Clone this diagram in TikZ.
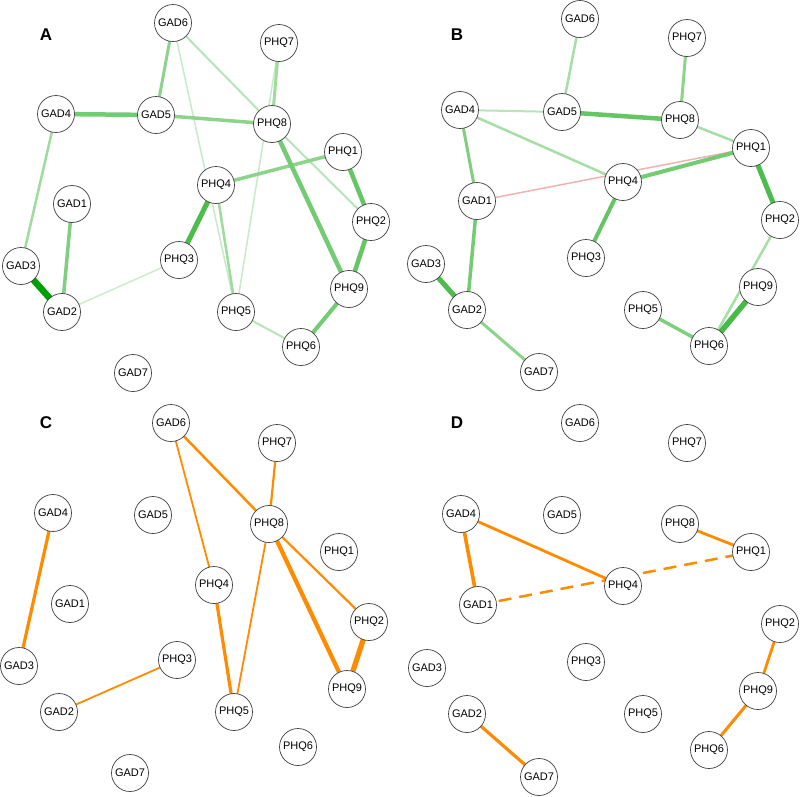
\documentclass[tikz,border=0pt]{standalone}
\usepackage{fontspec}
\setmainfont{Liberation Sans}
\usetikzlibrary{backgrounds}
\definecolor{gbase}{RGB}{0,160,0}
\definecolor{og}{RGB}{255,140,0}
\definecolor{negpink}{RGB}{240,178,178}
\tikzset{
  nd/.style={circle, draw=black!75, line width=0.7pt, fill=white, minimum size=37pt, inner sep=0pt, font=\fontsize{11}{13}\selectfont},
  ge/.style 2 args={line width=#1pt, draw=gbase!#2!white},
  oe/.style={line width=#1pt, draw=og},
  plabel/.style={font=\fontsize{17}{20}\selectfont\bfseries, inner sep=0pt},
}
\newcommand\pnode[4]{\node[nd] (#1#2) at (#3,#4) {#2};}
\newcommand\lnk[4][]{\draw[#1] (#2#3.center) -- (#2#4.center);}
\begin{document}
\begin{tikzpicture}[x=1pt,y=-1pt]
\useasboundingbox (0,0) rectangle (800,796);
% ---------------- Panel A ----------------
\node[plabel] (labA) at (46,35) {A};
\pnode{a}{GAD6}{173}{23}
\pnode{a}{PHQ7}{279}{43}
\pnode{a}{GAD4}{56}{114}
\pnode{a}{GAD5}{156}{115}
\pnode{a}{PHQ8}{272}{124}
\pnode{a}{PHQ1}{343}{152}
\pnode{a}{PHQ4}{216}{185}
\pnode{a}{GAD1}{72}{204}
\pnode{a}{PHQ2}{371}{222}
\pnode{a}{GAD3}{21}{266}
\pnode{a}{PHQ3}{179}{260}
\pnode{a}{PHQ9}{349}{289}
\pnode{a}{GAD2}{62}{312}
\pnode{a}{PHQ5}{236}{312}
\pnode{a}{PHQ6}{301}{347}
\pnode{a}{GAD7}{133}{373}
% ---------------- Panel B ----------------
\node[plabel] (labB) at (457,35) {B};
\pnode{b}{GAD6}{580}{19}
\pnode{b}{PHQ7}{687}{38}
\pnode{b}{GAD4}{460}{110}
\pnode{b}{GAD5}{562}{112}
\pnode{b}{PHQ8}{680}{120}
\pnode{b}{PHQ1}{751}{148}
\pnode{b}{PHQ4}{623}{182}
\pnode{b}{GAD1}{477}{201}
\pnode{b}{PHQ2}{780}{220}
\pnode{b}{PHQ3}{586}{258}
\pnode{b}{GAD3}{426}{264}
\pnode{b}{PHQ9}{758}{287}
\pnode{b}{GAD2}{467}{310}
\pnode{b}{PHQ5}{643}{310}
\pnode{b}{PHQ6}{709}{346}
\pnode{b}{GAD7}{539}{372}
% ---------------- Panel C ----------------
\node[plabel] (labC) at (46,423) {C};
\pnode{c}{GAD6}{171}{423}
\pnode{c}{PHQ7}{277}{443}
\pnode{c}{GAD4}{53}{513}
\pnode{c}{GAD5}{153}{515}
\pnode{c}{PHQ8}{269}{524}
\pnode{c}{PHQ1}{339}{552}
\pnode{c}{PHQ4}{214}{585}
\pnode{c}{GAD1}{70}{604}
\pnode{c}{PHQ2}{369}{622}
\pnode{c}{GAD3}{19}{666}
\pnode{c}{PHQ3}{177}{660}
\pnode{c}{PHQ9}{347}{689}
\pnode{c}{GAD2}{59}{712}
\pnode{c}{PHQ5}{234}{712}
\pnode{c}{PHQ6}{298}{747}
\pnode{c}{GAD7}{130}{773}
% ---------------- Panel D ----------------
\node[plabel] (labD) at (457,423) {D};
\pnode{d}{GAD6}{580}{423}
\pnode{d}{PHQ7}{687}{443}
\pnode{d}{GAD4}{461}{514}
\pnode{d}{GAD5}{562}{515}
\pnode{d}{PHQ8}{680}{524}
\pnode{d}{PHQ1}{751}{552}
\pnode{d}{PHQ4}{623}{586}
\pnode{d}{GAD1}{478}{605}
\pnode{d}{PHQ2}{780}{624}
\pnode{d}{GAD3}{427}{668}
\pnode{d}{PHQ3}{586}{662}
\pnode{d}{PHQ9}{758}{691}
\pnode{d}{GAD2}{467}{714}
\pnode{d}{PHQ5}{643}{714}
\pnode{d}{PHQ6}{709}{750}
\pnode{d}{GAD7}{539}{777}
\begin{pgfonlayer}{background}
\fill[white] (0,0) rectangle (800,796);
% A edges
\lnk[ge={1.5}{20}]{a}{GAD2}{PHQ3}
\lnk[ge={1.5}{22}]{a}{GAD6}{PHQ5}
\lnk[ge={1.5}{22}]{a}{PHQ7}{PHQ5}
\lnk[ge={2}{28}]{a}{GAD6}{PHQ8}
\lnk[ge={2}{28}]{a}{PHQ8}{PHQ2}
\lnk[ge={2}{28}]{a}{PHQ5}{PHQ6}
\lnk[ge={2.5}{38}]{a}{PHQ4}{PHQ5}
\lnk[ge={2.5}{38}]{a}{GAD4}{GAD3}
\lnk[ge={3}{38}]{a}{PHQ7}{PHQ8}
\lnk[ge={3}{45}]{a}{GAD6}{GAD5}
\lnk[ge={3.5}{45}]{a}{GAD5}{PHQ8}
\lnk[ge={3.5}{45}]{a}{PHQ4}{PHQ1}
\lnk[ge={3.5}{50}]{a}{GAD1}{GAD2}
\lnk[ge={4.5}{55}]{a}{GAD4}{GAD5}
\lnk[ge={4.5}{55}]{a}{PHQ8}{PHQ9}
\lnk[ge={4}{55}]{a}{PHQ9}{PHQ6}
\lnk[ge={4.5}{60}]{a}{PHQ1}{PHQ2}
\lnk[ge={4.5}{60}]{a}{PHQ2}{PHQ9}
\lnk[ge={5}{70}]{a}{PHQ4}{PHQ3}
\lnk[ge={6.5}{100}]{a}{GAD3}{GAD2}
% B edges
\lnk[line width=1.5pt, draw=negpink]{b}{GAD1}{PHQ1}
\lnk[ge={2}{28}]{b}{GAD4}{GAD5}
\lnk[ge={2.5}{35}]{b}{GAD6}{GAD5}
\lnk[ge={2.5}{35}]{b}{PHQ8}{PHQ1}
\lnk[ge={2.5}{35}]{b}{GAD4}{PHQ4}
\lnk[ge={2.5}{35}]{b}{PHQ2}{PHQ6}
\lnk[ge={3}{45}]{b}{PHQ7}{PHQ8}
\lnk[ge={3}{45}]{b}{GAD2}{GAD7}
\lnk[ge={3}{50}]{b}{GAD4}{GAD1}
\lnk[ge={3.5}{50}]{b}{PHQ5}{PHQ6}
\lnk[ge={3.5}{55}]{b}{GAD1}{GAD2}
\lnk[ge={4}{55}]{b}{PHQ4}{PHQ1}
\lnk[ge={4}{60}]{b}{PHQ4}{PHQ3}
\lnk[ge={4.5}{60}]{b}{GAD5}{PHQ8}
\lnk[ge={5}{70}]{b}{PHQ1}{PHQ2}
\lnk[ge={5}{70}]{b}{GAD3}{GAD2}
\lnk[ge={5.5}{72}]{b}{PHQ9}{PHQ6}
% C edges
\lnk[oe=2.5]{c}{GAD6}{PHQ8}
\lnk[oe=1.8]{c}{GAD6}{PHQ4}
\lnk[oe=2.2]{c}{PHQ7}{PHQ8}
\lnk[oe=1.8]{c}{PHQ8}{PHQ5}
\lnk[oe=2.2]{c}{PHQ8}{PHQ2}
\lnk[oe=4.2]{c}{PHQ8}{PHQ9}
\lnk[oe=5.2]{c}{PHQ2}{PHQ9}
\lnk[oe=3.2]{c}{PHQ4}{PHQ5}
\lnk[oe=3.2]{c}{GAD4}{GAD3}
\lnk[oe=1.8]{c}{GAD2}{PHQ3}
% D edges
\lnk[oe=3.6]{d}{GAD4}{GAD1}
\lnk[oe=2.8]{d}{GAD4}{PHQ4}
\lnk[oe=2.5, dash pattern=on 13pt off 8pt]{d}{GAD1}{PHQ1}
\lnk[oe=2.8]{d}{PHQ8}{PHQ1}
\lnk[oe=2.8]{d}{PHQ2}{PHQ9}
\lnk[oe=3]{d}{PHQ9}{PHQ6}
\lnk[oe=3.2]{d}{GAD2}{GAD7}
\end{pgfonlayer}
\end{tikzpicture}
\end{document}
